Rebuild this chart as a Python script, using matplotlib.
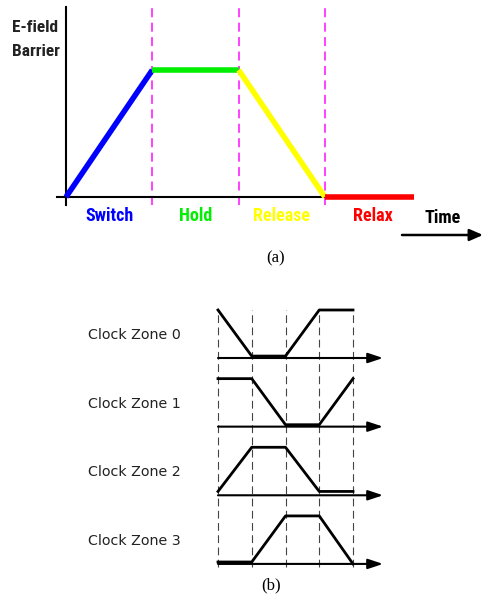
import matplotlib
matplotlib.use("Agg")
import matplotlib.pyplot as plt
import numpy as np
from matplotlib import font_manager as fm

# ---- data ----
phase_labels = ["Switch", "Hold", "Release", "Relax"]
phase_colors = ["#0000ff", "#00ee00", "#ffff00", "#ff0000"]
phase_times = [0, 1, 2, 3, 4.03]
phase_levels = [0, 1, 1, 0, 0]

zone_labels = ["Clock Zone 0", "Clock Zone 1", "Clock Zone 2", "Clock Zone 3"]
zone_times = [0, 1, 2, 3, 4]
zone_levels = [
    [1.0, 0.04, 0.04, 1.0, 1.0],
    [1.0, 1.0, 0.04, 0.04, 1.0],
    [0.08, 1.0, 1.0, 0.08, 0.08],
    [0.04, 0.04, 1.0, 1.0, 0.0],
]

names = {f.name for f in fm.fontManager.ttflist}
narrow = None
for cand in ["Liberation Sans Narrow", "Roboto Condensed", "DejaVu Sans Condensed", "Open Sans Condensed"]:
    if cand in names:
        narrow = cand
        break

W, H = 483, 601
fig = plt.figure(figsize=(W / 100, H / 100), dpi=100)

# ---------------- panel (a) ----------------
top_a, bot_a = 0, 280
axa = fig.add_axes([0, 1 - bot_a / H, 1, (bot_a - top_a) / H])
axa.axis("off")
x0p, ux = 66, 86.3
y0p, uy = 197, 127
axa.set_xlim((0 - x0p) / ux, (W - x0p) / ux)
axa.set_ylim((y0p - bot_a) / uy, (y0p - top_a) / uy)

cond = [narrow, "DejaVu Sans"] if narrow else ["DejaVu Sans"]
fkw = dict(fontweight="bold", family=cond, fontstretch="condensed")
# axes
axa.plot([0, 0], [(y0p - 205) / uy, (y0p - 7) / uy], color="black", lw=1.5, zorder=2)
axa.plot([(57 - x0p) / ux, 3], [0, 0], color="black", lw=1.5, zorder=2)
# dashed separators
for t in phase_times[1:4]:
    axa.plot([t, t], [(y0p - 205) / uy, (y0p - 7) / uy], color="#ff33ff",
             lw=1.3, ls=(0, (5, 3)), zorder=1)
# colored segments
for i in range(4):
    axa.plot(phase_times[i:i + 2], phase_levels[i:i + 2], color=phase_colors[i],
             lw=4, solid_capstyle="butt", zorder=3)
# labels
label_x = [110, 196, 282, 373]
for i, lab in enumerate(phase_labels):
    axa.text((label_x[i] - x0p) / ux, (y0p - 216) / uy, lab, color=phase_colors[i],
             ha="center", va="center", fontsize=13, **fkw)
axa.text((12 - x0p) / ux, (y0p - 28) / uy, "E-field", ha="left", va="center",
         fontsize=12.5, color="#222222", **fkw)
axa.text((12 - x0p) / ux, (y0p - 52) / uy, "Barrier", ha="left", va="center",
         fontsize=12.5, color="#222222", **fkw)
axa.text((443 - x0p) / ux, (y0p - 218) / uy, "Time", ha="center", va="center",
         fontsize=13, color="black", **fkw)
axa.annotate("", xy=((W - x0p) / ux, (y0p - 235) / uy),
             xytext=((402 - x0p) / ux, (y0p - 235) / uy),
             arrowprops=dict(arrowstyle="-|>,head_length=0.8,head_width=0.35",
                             color="black", lw=1.8, shrinkA=0, shrinkB=0))
axa.text((276 - x0p) / ux, (y0p - 258) / uy, "(a)", ha="center", va="center",
         fontsize=12, family="Liberation Serif")

# ---------------- panel (b) ----------------
top_b, bot_b = 290, 601
axb = fig.add_axes([0, 0, 1, (bot_b - top_b) / H])
axb.axis("off")
bx0, bux = 218, 33.75
by0, buy = 358, 48
axb.set_xlim((0 - bx0) / bux, (W - bx0) / bux)
axb.set_ylim((by0 - bot_b) / buy, (by0 - top_b) / buy)

spacing = 1.43
for t in zone_times:
    axb.plot([t, t], [(by0 - 567) / buy, (by0 - 310) / buy], color="#444444",
             lw=0.8, ls=(0, (7, 4)), zorder=1)
for k, (lab, lev) in enumerate(zip(zone_labels, zone_levels)):
    base = -k * spacing
    axb.annotate("", xy=((383 - bx0) / bux, base), xytext=(0, base),
                 arrowprops=dict(arrowstyle="-|>,head_length=0.9,head_width=0.3",
                                 color="black", lw=1.5, shrinkA=0, shrinkB=0))
    axb.plot(zone_times, base + np.array(lev), color="black", lw=2, zorder=3)
    axb.text((88 - bx0) / bux, base + (358 - 335) / buy, lab, ha="left", va="center",
             fontsize=10.3, family="DejaVu Sans", color="#222222")
axb.text((271 - bx0) / bux, (by0 - 585) / buy, "(b)", ha="center", va="center",
         fontsize=12, family="Liberation Serif")

fig.savefig("out.png", dpi=100, facecolor="white")
